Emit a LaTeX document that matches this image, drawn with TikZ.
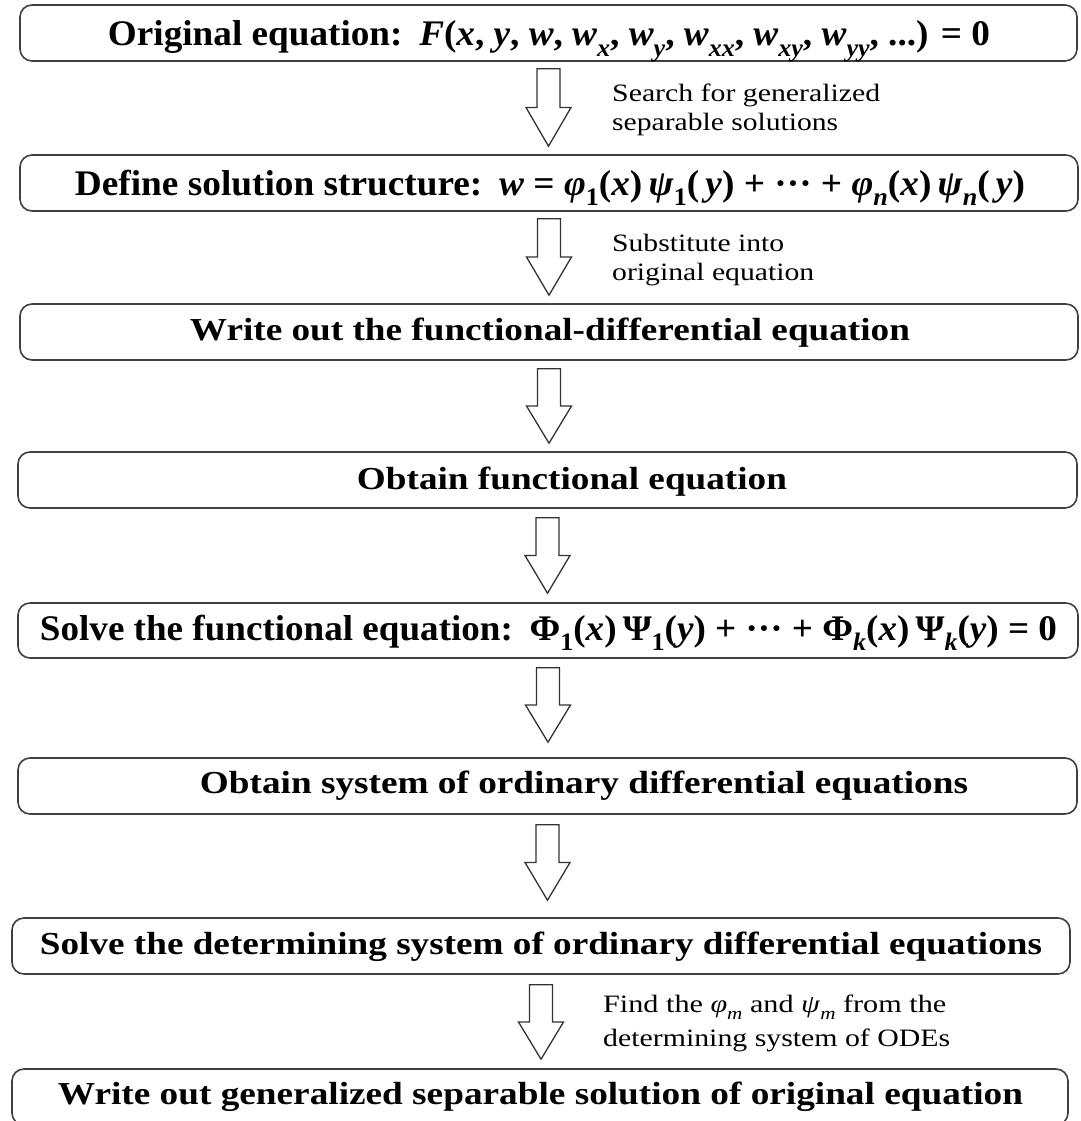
\documentclass[tikz,border=0pt]{standalone}
\usepackage{fontspec}
\setmainfont{Liberation Serif}
\usetikzlibrary{calc}
\newcommand{\fitw}[2]{\resizebox{#1pt}{\height}{#2}}
\newcommand{\sbx}[1]{\raisebox{-0.28em}{\scalebox{0.7}{\itshape #1}}}
\newcommand{\sbu}[1]{\raisebox{-0.28em}{\scalebox{0.7}{#1}}}
\begin{document}
\begin{tikzpicture}[x=1pt,y=-1pt,
  box/.style={draw=black!75, line width=1.6pt, rounded corners=12pt, minimum height=56pt, inner sep=0pt, fill=white},
  bigtext/.style={anchor=base, inner sep=0pt, font=\fontsize{36}{40}\selectfont\bfseries},
  midtext/.style={anchor=base, inner sep=0pt, font=\fontsize{32}{36}\selectfont\bfseries},
  lbl/.style={anchor=base west, inner sep=0pt, font=\fontsize{25}{29}\selectfont},
  blk/.style={draw=black!80, line width=1.3pt, fill=white, line join=miter,
    to path={let \p1=(\tikztostart), \p2=(\tikztotarget), \p3=($(\tikztostart)!0.5!(\tikztotarget)$) in
      (\x1-11.5pt,\y1) -- (\x1+11.5pt,\y1) -- (\x1+11.5pt,\y3) -- (\x1+22.5pt,\y3)
      -- (\x1,\y2) -- (\x1-22.5pt,\y3) -- (\x1-11.5pt,\y3) -- cycle}}
]
\useasboundingbox (0,0) rectangle (1080,1121);
\clip (0,0) rectangle (1080,1121);
\fill[white] (0,0) rectangle (1080,1121);

% boxes
\node[box, minimum width=1057pt] (b1) at (548.5,33) {};
\node[box, minimum width=1058pt] (b2) at (549,183) {};
\node[box, minimum width=1058pt] (b3) at (549,332) {};
\node[box, minimum width=1059pt] (b4) at (547.5,480) {};
\node[box, minimum width=1060pt, minimum height=55pt] (b5) at (548,630.5) {};
\node[box, minimum width=1059pt] (b6) at (547.5,786) {};
\node[box, minimum width=1058pt] (b7) at (541,946) {};
\node[box, minimum width=1056pt] (b8) at (540,1097) {};

% box texts
\node[bigtext] (t1) at (549,46) {\fitw{882}{Original equation:\hspace{0.45em}\textit{F}(\textit{x}, \textit{y}, \textit{w}, \textit{w}\sbx{x}, \textit{w}\sbx{y}, \textit{w}\sbx{xx}, \textit{w}\sbx{xy}, \textit{w}\sbx{yy}, ...) = 0}};
\node[bigtext] (t2) at (550,195) {\fitw{950}{Define solution structure:\hspace{0.45em}\textit{w} = \textit{φ}\sbu{1}(\textit{x})\,\textit{ψ}\sbu{1}(\,\textit{y}) + ··· + \textit{φ}\sbx{n}(\textit{x})\,\textit{ψ}\sbx{n}(\,\textit{y})}};
\node[midtext] (t3) at (550,340) {\fitw{720}{Write out the functional-differential equation}};
\node[midtext] (t4) at (572,489) {\fitw{430}{Obtain functional equation}};
\node[bigtext] (t5) at (548.5,640) {\fitw{1017}{Solve the functional equation:\hspace{0.45em}Φ\sbu{1}(\textit{x})\,Ψ\sbu{1}(\textit{y}) + ··· + Φ\sbx{k}(\textit{x})\,Ψ\sbx{k}(\textit{y}) = 0}};
\node[midtext] (t6) at (584,793) {\fitw{768}{Obtain system of ordinary differential equations}};
\node[midtext] (t7) at (541,954) {\fitw{1002}{Solve the determining system of ordinary differential equations}};
\node[midtext] (t8) at (540.5,1104) {\fitw{965}{Write out generalized separable solution of original equation}};

% arrows
\path[blk] ($(b1.south)+(0,7)$) to ($(b2.north)+(0,-8)$);
\path[blk] ($(b2.south)+(0,7)$) to ($(b3.north)+(0,-8)$);
\path[blk] ($(b3.south)+(0,8)$) to ($(b4.north)+(0,-8)$);
\path[blk] ($(b4.south)+(0,9)$) to ($(b5.north)+(0,-9)$);
\path[blk] ($(b5.south)+(0,9)$) to ($(b6.north)+(0,-15)$);
\path[blk] ($(b6.south)+(0,10)$) to ($(b7.north)+(0,-17)$);
\path[blk] ($(b7.south)+(0,10)$) to ($(b8.north)+(0,-9)$);

% labels
\node[lbl] (la1) at (612,102) {\fitw{268}{Search for generalized}};
\node[lbl] (la2) at (612,131) {\fitw{226}{separable solutions}};
\node[lbl] (lb1) at (612,251) {\fitw{172}{Substitute into}};
\node[lbl] (lb2) at (612,280) {\fitw{202}{original equation}};
\node[lbl] (lc1) at (603,1012) {\fitw{343}{Find the \textit{φ}\sbx{m} and \textit{ψ}\sbx{m} from the}};
\node[lbl] (lc2) at (603,1046) {\fitw{347}{determining system of ODEs}};
\end{tikzpicture}
\end{document}
